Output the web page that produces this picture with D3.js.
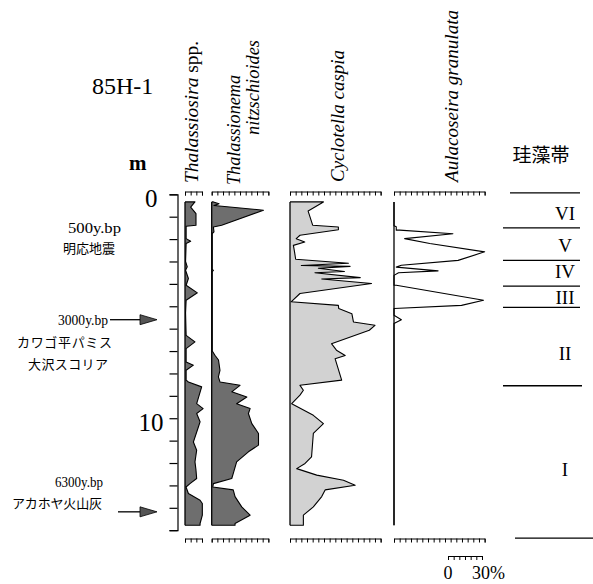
<!DOCTYPE html>
<html><head><meta charset="utf-8">
<script src="https://cdn.jsdelivr.net/npm/d3@7"></script>
<style>body{margin:0;background:#fff}svg{display:block}</style>
</head><body>
<svg id="c" width="593" height="584"></svg>
<script>
// ---- data: [depth (m), percent] ----
const thalassiosira = [[0.34,0],[0.34,8.8],[0.57,5],[0.86,9.7],[1.38,9.7],[1.43,1],[1.6,1],[1.98,1],[2.1,5],[2.2,1],[3.0,0.5],[3.24,2],[3.39,0.5],[3.76,3],[4.06,1],[4.4,10.9],[4.73,1],[5.3,0.5],[6.3,1],[6.59,8.8],[6.89,1],[7.49,1],[7.63,7.4],[7.86,1],[8.3,1],[8.38,3],[8.6,14.7],[9.35,10.3],[9.57,16],[9.79,10.3],[10.16,13.3],[10.39,11.8],[11.06,7.4],[11.43,10.3],[11.95,8.8],[12.32,9.7],[12.69,10.3],[12.92,4.4],[13.07,0.9],[13.36,3],[13.66,13.3],[13.81,15.3],[14.33,15.3],[14.7,13.3],[14.78,13.3],[14.78,0]];
const thalassionema = [[0.34,0],[0.34,1.5],[0.42,6.5],[0.5,2],[0.71,45.7],[1.38,8.8],[1.46,1.5],[1.68,2],[1.75,0.5],[3.35,0.5],[3.4,1.5],[3.45,0.5],[7.0,0.5],[7.2,3],[7.4,6],[7.86,7.3],[8.15,5.9],[8.38,7.3],[8.53,25],[8.82,17.7],[9.05,31],[9.35,22],[9.57,33.9],[9.79,32.4],[10.24,35.4],[10.68,41.3],[11.2,41.3],[11.5,32.4],[11.95,22],[12.47,19],[12.69,17.7],[12.92,1.5],[13.07,1],[13.2,19],[13.5,20.6],[13.96,26.5],[14.33,33.9],[14.7,20.6],[14.78,20.6],[14.78,0]];
const cyclotella = [[0.34,0],[0.34,29.5],[0.75,16],[1.38,20],[1.46,42.7],[1.58,42.7],[1.83,8.8],[1.98,5.5],[2.13,13],[2.28,3],[2.57,4],[2.9,5],[3.08,51.6],[3.18,10],[3.22,53],[3.3,25],[3.45,48],[3.5,22],[3.72,62],[3.78,28],[3.98,72],[4.43,8.8],[4.8,1],[4.96,42.7],[5.1,43],[5.33,54.6],[5.7,56],[5.85,75],[6.07,70],[6.67,36.6],[6.96,41],[7.2,48.7],[7.34,39.8],[8.3,45.6],[8.53,8.8],[8.75,11.8],[8.97,8.8],[9.35,1.5],[9.87,20.6],[10.24,29.5],[10.68,20.6],[11.73,19],[12.02,13.3],[12.25,5.9],[12.54,23.6],[12.77,47.2],[12.99,57.5],[13.2,31],[13.5,28],[13.96,20.6],[14.33,11.8],[14.78,11.8],[14.78,0]];
const aulacoseira = [[0.34,0],[1.4,0],[1.45,2],[1.6,2],[1.6,5],[1.76,52],[1.98,9.4],[2.2,31.6],[2.57,80],[2.95,56.6],[3.17,6.5],[3.25,2],[3.42,38.9],[3.5,4],[3.62,0],[4.06,0],[4.06,2],[4.73,79],[4.96,59.6],[5.1,0],[5.4,0],[5.6,6.5],[5.77,0],[14.78,0]];

const taxa = ["Thalassiosira", "Thalassionema nitzschioides", "Cyclotella caspia", "Aulacoseira granulata"];
const taxaMax = [15, 50, 80, 80];
const depthTicks = [0,1,2,3,4,5,6,7,8,9,10,11,12,13,14,15];
const depthLabels = [0, 10];
const zoneBounds = [0, 1.5, 2.95, 4.1, 5.05, 8.55, 15.35];
const zoneNames = ["VI","V","IV","III","II","I"];
const zoneLabelDepth = [0.84, 2.3, 3.44, 4.62, 7.12, 12.3];
const events = [
  {age:"500y.bp", name:["明応地震"], depth:1.55, arrow:false},
  {age:"3000y.bp", name:["カワゴ平パミス","大沢スコリア"], depth:5.6, arrow:true},
  {age:"6300y.bp", name:["アカホヤ火山灰"], depth:14.18, arrow:true}
];
const scaleBarPct = [0, 30];

// ---- layout ----
const svg = d3.select("#c");
const serif = "'Liberation Serif','Times New Roman',serif";
const cjk = "'Noto Sans CJK JP',sans-serif";
const y = d3.scaleLinear().domain([0,15]).range([194.3,530.2]);
const k = 1.133; // px per percent
const bases = [185, 211.7, 290, 394];
const topBar = 191.5, botBar = 538.5;
const series = [thalassiosira, thalassionema, cyclotella, aulacoseira];
const fills = ["#6e6e6e", "#6e6e6e", "#d2d2d2", "none"];

series.forEach((data, i) => {
  const x = d3.scaleLinear().domain([0, taxaMax[i]]).range([bases[i], bases[i] + taxaMax[i]*k]);
  const g = svg.append("g");
  if (fills[i] !== "none") {
    g.append("path").datum(data)
      .attr("d", d3.area().y(d => y(d[0])).x0(x(0)).x1(d => x(d[1])))
      .attr("fill", fills[i]);
  }
  g.append("path").datum(data)
    .attr("d", d3.line().y(d => y(d[0])).x(d => x(d[1])))
    .attr("fill", "none").attr("stroke", "#000").attr("stroke-width", 1.1).attr("stroke-linejoin","round");
  // baseline
  const d0 = d3.min(data, d => d[0]), d1 = d3.max(data, d => d[0]);
  g.append("line").attr("x1", x(0)).attr("x2", x(0)).attr("y1", y(d0)).attr("y2", y(d1))
    .attr("stroke","#000").attr("stroke-width",1.3);
  const ax = d3.axisBottom(x).tickValues(d3.range(0, taxaMax[i] + 0.01, 5)).tickSize(4).tickSizeOuter(4).tickFormat("");
  [topBar, botBar].forEach(yy => {
    const a = svg.append("g").attr("transform", `translate(0,${yy})`).call(ax);
    a.selectAll("path,line").attr("stroke","#000").attr("stroke-width",1);
  });
});

// depth axis
const yAxis = d3.axisLeft(y).tickValues(depthTicks).tickSize(8).tickSizeOuter(8).tickPadding(6)
  .tickFormat(d => depthLabels.includes(d) ? d : "");
const ya = svg.append("g").attr("transform","translate(177.5,0)").call(yAxis);
ya.selectAll("path,line").attr("stroke","#000").attr("stroke-width",1.2);
ya.selectAll("text").attr("font-family", serif).attr("font-size", 25).attr("fill","#000").attr("dy","0.5em");
ya.selectAll(".tick text").filter(d => d === 0).attr("dx", -6);

// title and unit
svg.append("text").attr("x",92).attr("y",94).attr("font-family",serif).attr("font-size",24).text("85H-1");
svg.append("text").attr("x",129).attr("y",170).attr("font-family",serif).attr("font-size",21).attr("font-weight","bold").text("m");

// taxon labels (rotated)
function rot(x0, y0, len) {
  return svg.append("text").attr("transform", `translate(${x0},${y0}) rotate(-90)`)
    .attr("font-family", serif).attr("font-size", 18)
    .attr("textLength", len).attr("lengthAdjust","spacingAndGlyphs");
}
const t1 = rot(198, 183, 142);
t1.append("tspan").attr("font-style","italic").text("Thalassiosira");
t1.append("tspan").text(" spp.");
rot(240, 185, 110).attr("font-style","italic").text(taxa[1].split(" ")[0]);
rot(258.5, 135, 95).attr("font-style","italic").text(taxa[1].split(" ")[1]);
rot(344, 182, 132).attr("font-style","italic").text(taxa[2]);
rot(458, 182, 172).attr("font-style","italic").text(taxa[3]);

// zone column
svg.append("text").attr("x",541).attr("y",162).attr("text-anchor","middle")
  .attr("font-family",cjk).attr("font-size",19).text("珪藻帯");
const zoneX1 = [510, 503, 503, 503, 503, 503, 515];
const zoneX2 = [580, 580, 580, 580, 580, 582, 593];
zoneBounds.forEach((b, i) => {
  svg.append("line").attr("x1", zoneX1[i]).attr("x2", zoneX2[i])
    .attr("y1", y(b) - (i === 0 ? 1.5 : 0)).attr("y2", y(b) - (i === 0 ? 1.5 : 0))
    .attr("stroke","#000").attr("stroke-width",1.3);
});
zoneNames.forEach((n, i) => {
  svg.append("text").attr("x",565).attr("y", y(zoneLabelDepth[i])).attr("dy","0.35em")
    .attr("text-anchor","middle").attr("font-family",serif).attr("font-size",19).text(n);
});

// event annotations
const ev0 = events[0];
svg.append("text").attr("x",121).attr("y",233).attr("text-anchor","end").attr("font-family",serif).attr("font-size",14)
  .attr("textLength",53).attr("lengthAdjust","spacingAndGlyphs").text(ev0.age);
svg.append("text").attr("x",115).attr("y",253).attr("text-anchor","end").attr("font-family",cjk).attr("font-size",13)
  .attr("textLength",52).text(ev0.name[0]);

const ev1 = events[1], ay1 = y(ev1.depth);
svg.append("text").attr("x",108).attr("y",ay1+5).attr("text-anchor","end").attr("font-family",serif).attr("font-size",14)
  .attr("textLength",50).attr("lengthAdjust","spacingAndGlyphs").text(ev1.age);
svg.append("text").attr("x",112).attr("y",ay1+27).attr("text-anchor","end").attr("font-family",cjk).attr("font-size",13)
  .attr("textLength",95).text(ev1.name[0]);
svg.append("text").attr("x",108).attr("y",ay1+49).attr("text-anchor","end").attr("font-family",cjk).attr("font-size",13)
  .attr("textLength",80).text(ev1.name[1]);

const ev2 = events[2], ay2 = y(ev2.depth);
svg.append("text").attr("x",103).attr("y",ay2-25).attr("text-anchor","end").attr("font-family",serif).attr("font-size",14)
  .attr("textLength",48).attr("lengthAdjust","spacingAndGlyphs").text(ev2.age);
svg.append("text").attr("x",102).attr("y",ay2-4).attr("text-anchor","end").attr("font-family",cjk).attr("font-size",13)
  .attr("textLength",90).text(ev2.name[0]);

function arrow(x0, yy) {
  svg.append("line").attr("x1",x0).attr("x2",141).attr("y1",yy).attr("y2",yy).attr("stroke","#000").attr("stroke-width",1.3);
  svg.append("path").attr("d",`M140,${yy-5}L157,${yy}L140,${yy+5}Z`).attr("fill","#555").attr("stroke","#000").attr("stroke-width",0.8);
}
arrow(110, ay1);
arrow(118, ay2);

// scale bar
const sx = d3.scaleLinear().domain(scaleBarPct).range([448, 448 + 30*k]);
const sb = svg.append("g").attr("transform","translate(0,556)")
  .call(d3.axisBottom(sx).tickValues(d3.range(0,30.1,5)).tickSize(4).tickSizeOuter(4).tickFormat(""));
sb.selectAll("path,line").attr("stroke","#000").attr("stroke-width",1);
svg.append("text").attr("x",sx(0)).attr("y",579).attr("text-anchor","middle").attr("font-family",serif).attr("font-size",18).text("0");
svg.append("text").attr("x",sx(30)-10).attr("y",579).attr("font-family",serif).attr("font-size",18).text("30%");
</script>
</body></html>
